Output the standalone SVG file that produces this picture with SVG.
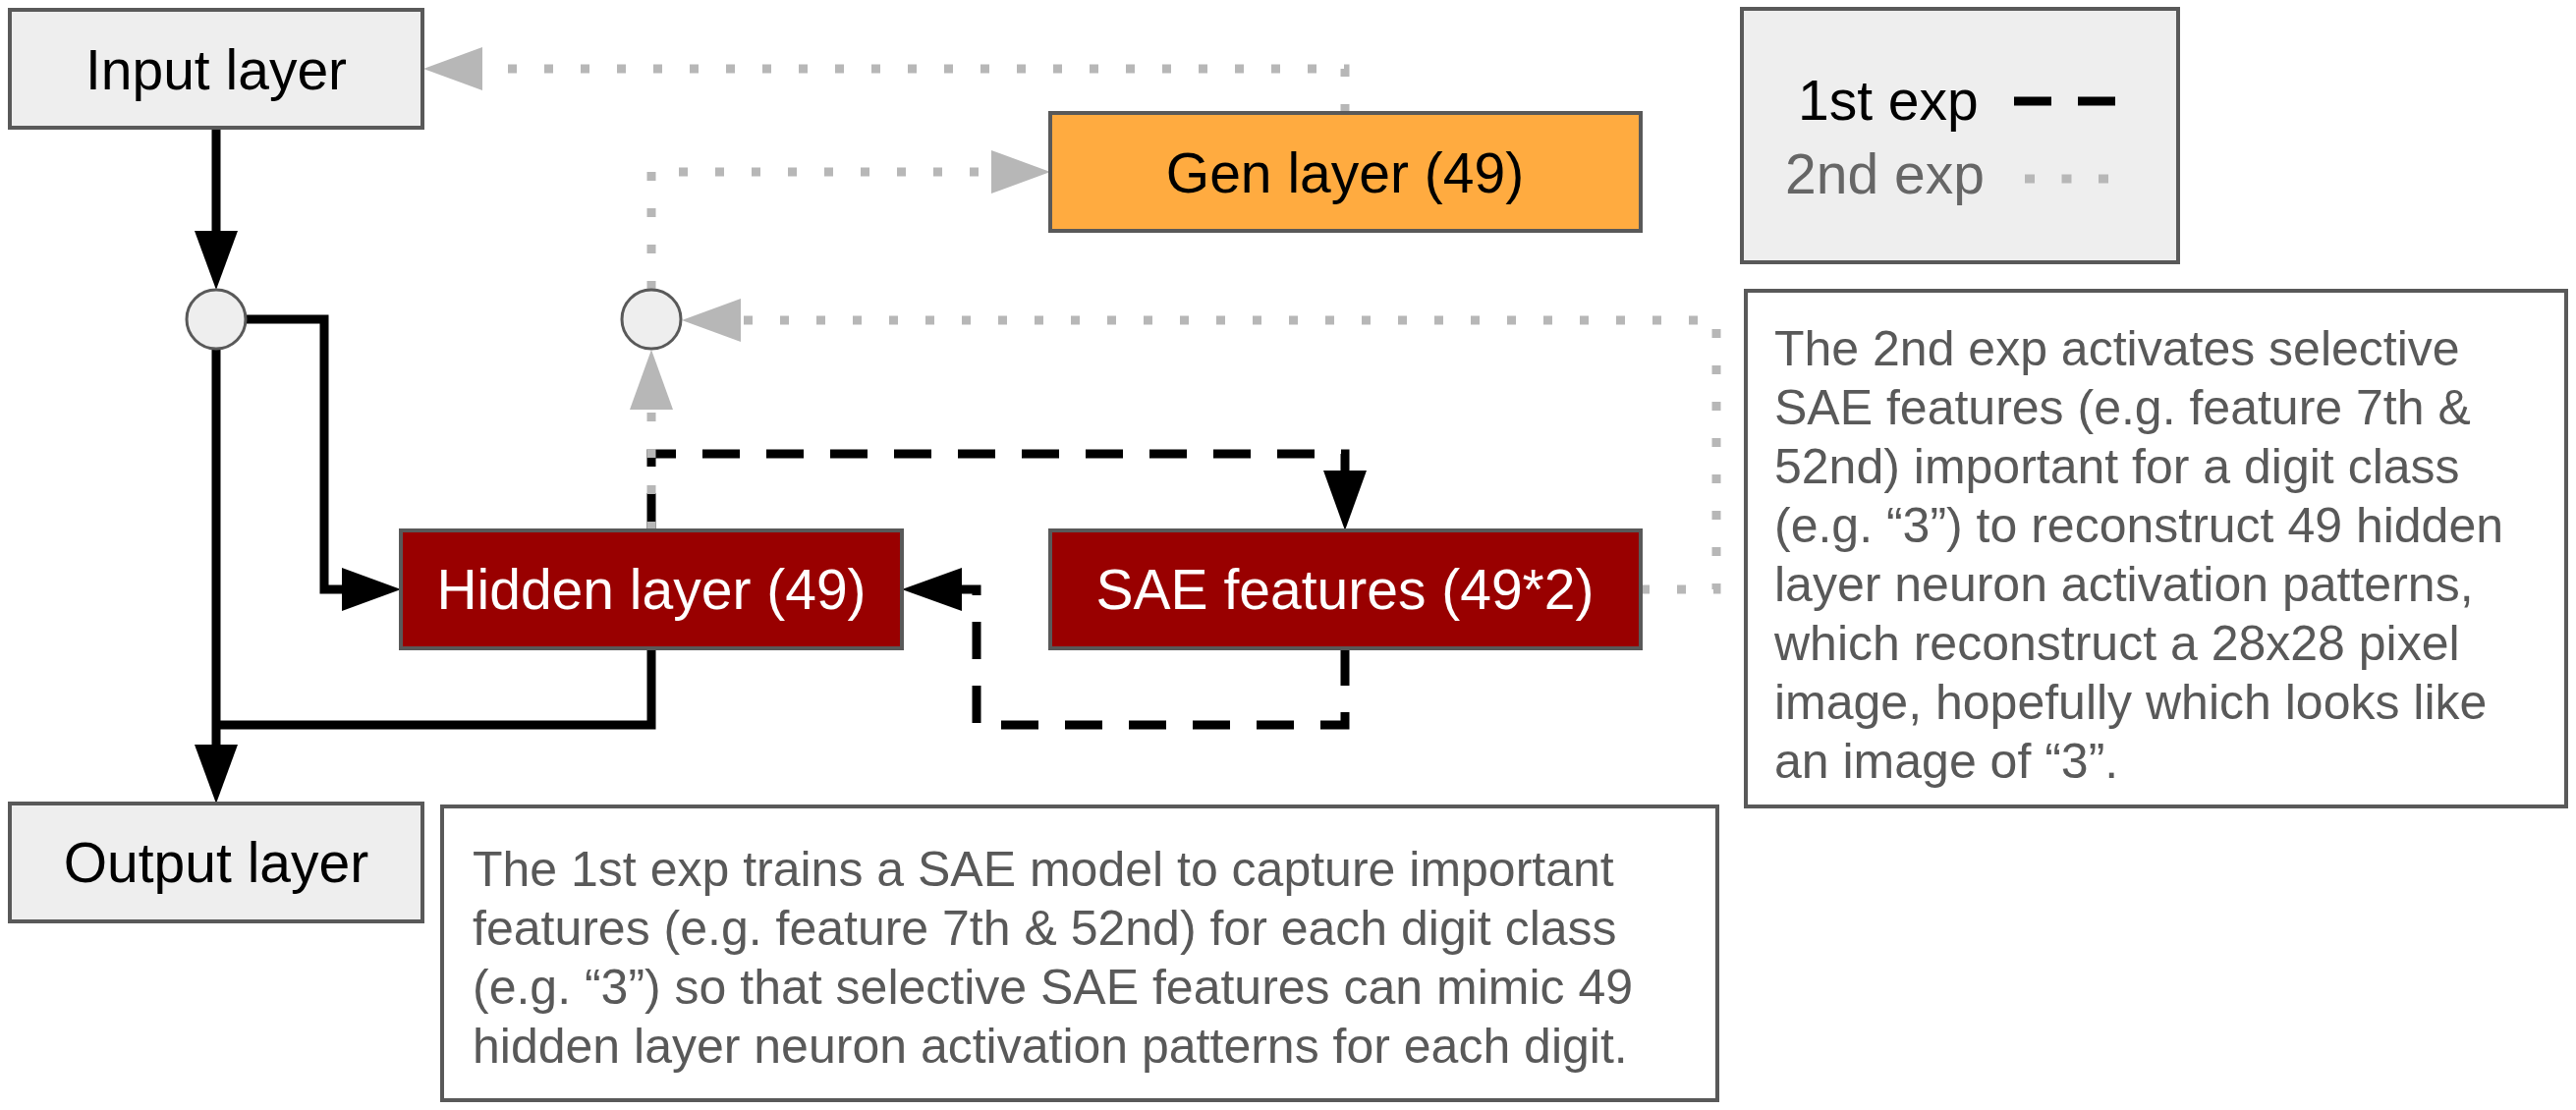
<svg xmlns="http://www.w3.org/2000/svg" width="2622" height="1130" viewBox="0 0 2622 1130">
<style>
.box{stroke:#595959;stroke-width:4}
.grey{fill:#eeeeee}
.red{fill:#990000}
.orange{fill:#ffab40}
.note{fill:#ffffff;stroke:#595959;stroke-width:4}
.lbl{font-family:"Liberation Sans",Arial,sans-serif;font-size:57px;text-anchor:middle;fill:#000}
.wht{fill:#ffffff}
.desc{font-family:"Liberation Sans",Arial,sans-serif;font-size:50px;fill:#595959}
.solid{stroke:#000;stroke-width:9;fill:none}
.dash{stroke:#000;stroke-width:9;stroke-dasharray:38 27;fill:none}
.dot{stroke:#b7b7b7;stroke-width:9;stroke-dasharray:9 28;fill:none}
.ahb{fill:#000}
.ahg{fill:#b7b7b7}
.node-c{fill:#eeeeee;stroke:#595959;stroke-width:3}
</style>
<rect width="2622" height="1130" fill="#ffffff"/>

<g id="connectors">
  <path class="solid" d="M220,130 V237"/>
  <polygon class="ahb" points="198,235 242,235 220,295"/>
  <path class="solid" d="M220,355 V760"/>
  <polygon class="ahb" points="198,758 242,758 220,818"/>
  <path class="solid" d="M250,325 H330 V600 H350"/>
  <polygon class="ahb" points="348,578 348,622 408,600"/>
  <path class="solid" d="M663,660 V738 H220"/>
  <path class="dash" d="M663,540 V462 H1369 V481"/>
  <polygon class="ahb" points="1347,479 1391,479 1369,540"/>
  <path class="dash" d="M1369,660 V738 H994 V600 H978"/>
  <polygon class="ahb" points="979,578 979,622 918,600"/>
  <path class="dot" d="M1369,115 V70 H491"/>
  <polygon class="ahg" points="491,48 491,92 431,70"/>
  <path class="dot" d="M663,540 V417"/>
  <polygon class="ahg" points="641,417 685,417 663,356"/>
  <path class="dot" d="M663,295 V175 H1009"/>
  <polygon class="ahg" points="1009,153 1009,197 1069,175"/>
  <path class="dot" d="M1670,600 H1747 V326 H754"/>
  <polygon class="ahg" points="754,304 754,348 694,326"/>
</g>

<g id="input-layer">
  <rect class="box grey" x="10" y="10" width="420" height="120"/>
  <text class="lbl" x="220" y="91">Input layer</text>
</g>
<g id="gen-layer">
  <rect class="box orange" x="1069" y="115" width="601" height="120"/>
  <text class="lbl" x="1369" y="196">Gen layer (49)</text>
</g>
<g id="junction-1">
  <circle class="node-c" cx="220" cy="325" r="30"/>
</g>
<g id="junction-2">
  <circle class="node-c" cx="663" cy="325" r="30"/>
</g>
<g id="hidden-layer">
  <rect class="box red" x="408" y="540" width="510" height="120"/>
  <text class="lbl wht" x="663" y="620">Hidden layer (49)</text>
</g>
<g id="sae-features">
  <rect class="box red" x="1069" y="540" width="601" height="120"/>
  <text class="lbl wht" x="1369" y="620">SAE features (49*2)</text>
</g>
<g id="output-layer">
  <rect class="box grey" x="10" y="818" width="420" height="120"/>
  <text class="lbl" x="220" y="898">Output layer</text>
</g>
<g id="legend">
  <rect class="box grey" x="1773" y="9" width="444" height="258"/>
  <text class="lbl" x="1830" y="122" style="text-anchor:start">1st exp</text>
  <path class="dash" d="M2050,103 H2154"/>
  <text class="lbl" x="1817" y="197" style="text-anchor:start;fill:#666666">2nd exp</text>
  <path class="dot" d="M2061,182 H2147" style="stroke-dasharray:10 27.5"/>
</g>
<g id="note-2nd">
  <rect class="note" x="1777" y="296" width="835" height="525"/>
  <text class="desc" x="1806" y="372">The 2nd exp activates selective</text>
  <text class="desc" x="1806" y="432">SAE features (e.g. feature 7th &amp;</text>
  <text class="desc" x="1806" y="492">52nd) important for a digit class</text>
  <text class="desc" x="1806" y="552">(e.g. “3”) to reconstruct 49 hidden</text>
  <text class="desc" x="1806" y="612">layer neuron activation patterns,</text>
  <text class="desc" x="1806" y="672">which reconstruct a 28x28 pixel</text>
  <text class="desc" x="1806" y="732">image, hopefully which looks like</text>
  <text class="desc" x="1806" y="792">an image of “3”.</text>
</g>
<g id="note-1st">
  <rect class="note" x="450" y="821" width="1298" height="299"/>
  <text class="desc" x="481" y="902">The 1st exp trains a SAE model to capture important</text>
  <text class="desc" x="481" y="962">features (e.g. feature 7th &amp; 52nd) for each digit class</text>
  <text class="desc" x="481" y="1022">(e.g. “3”) so that selective SAE features can mimic 49</text>
  <text class="desc" x="481" y="1082">hidden layer neuron activation patterns for each digit.</text>
</g>
</svg>
